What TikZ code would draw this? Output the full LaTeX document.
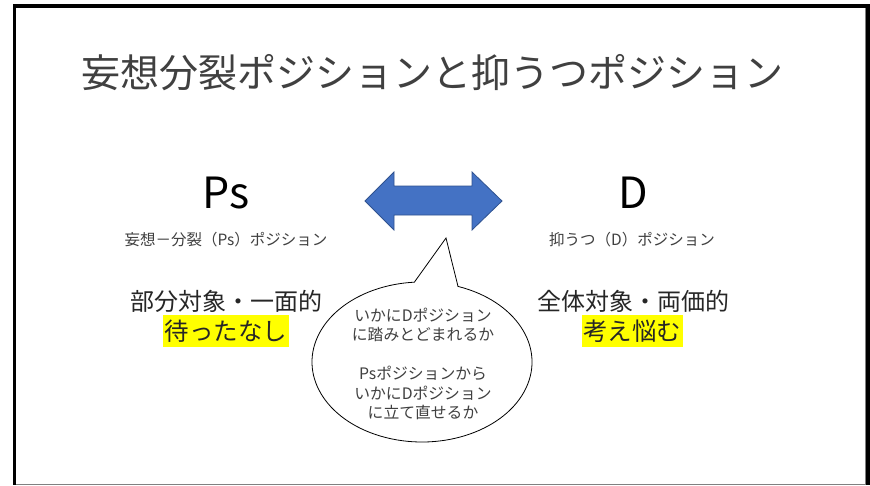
\documentclass[tikz,border=0pt]{standalone}
\usepackage{fontspec}
\setmainfont{Noto Sans CJK JP}
\definecolor{arrowblue}{HTML}{4472C4}
\definecolor{arrowedge}{HTML}{2F528F}
\definecolor{txt}{HTML}{404040}
\definecolor{hl}{HTML}{FFFF00}
\begin{document}
\begin{tikzpicture}[x=1pt,y=-1pt,
  titletxt/.style={text=txt,font=\fontsize{39}{46}\selectfont,inner sep=0pt},
  bigletter/.style={text=black,font=\fontsize{43}{50}\selectfont,inner sep=0pt},
  subtxt/.style={text=txt,font=\fontsize{15.5}{19}\selectfont,inner sep=0pt},
  midtxt/.style={text=black!85,font=\fontsize{24}{30}\selectfont,inner sep=0pt},
  hlbox/.style={text=black!85,font=\fontsize{24.5}{30}\selectfont,fill=hl,inner xsep=1.5pt,inner ysep=0pt,minimum height=32pt},
  bubbletxt/.style={text=txt,font=\fontsize{15.8}{19.5}\selectfont,align=center,inner sep=0pt}]
\useasboundingbox (0,0) rectangle (870,485);
% slide frame
\fill[black] (13,4) rectangle (870,485);
\fill[white] (16,8) rectangle (866,484);
\draw[gray,line width=1.2] (16,484.4) -- (865.4,484.4) -- (865.4,8);
% title
\node[titletxt] (title) at (432,73) {妄想分裂ポジションと抑うつポジション};
% left
\node[bigletter] (ps) at (226,193) {Ps};
\node[subtxt] (pssub) at (226,240) {妄想－分裂（Ps）ポジション};
\node[midtxt] (psdesc) at (226,301) {部分対象・一面的};
\node[hlbox] (pshl) at (226,331) {待ったなし};
% right
\node[bigletter] (d) at (633,193) {D};
\node[subtxt] (dsub) at (632,240) {抑うつ（D）ポジション};
\node[midtxt] (ddesc) at (633,301) {全体対象・両価的};
\node[hlbox] (dhl) at (632,331) {考え悩む};
% double arrow
\draw[fill=arrowblue,draw=arrowedge,line width=0.8]
  (365,201) -- (394,172) -- (394,186) -- (472,186) -- (472,172) -- (502,201)
  -- (472,230) -- (472,215) -- (394,215) -- (394,230) -- cycle;
% speech bubble
\coordinate (tip) at (446,238);
\draw[fill=white,line width=0.8] (tip) -- (458,286.4)
  arc[start angle=289.1,end angle=626,x radius=110,y radius=80] -- cycle;
\node[bubbletxt] (bubble) at (423,364) {いかにDポジション\\に踏みとどまれるか\\[19.5pt]Psポジションから\\いかにDポジション\\に立て直せるか};
\end{tikzpicture}
\end{document}
